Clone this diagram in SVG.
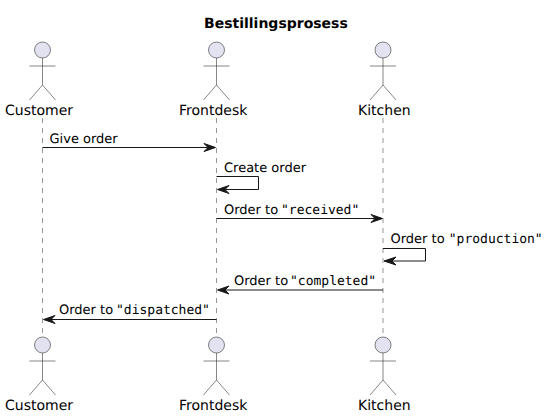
<svg xmlns="http://www.w3.org/2000/svg" width="546" height="417" viewBox="0 0 546 417">
<style>
text{font-family:"DejaVu Sans",sans-serif;fill:#000;text-rendering:geometricPrecision}
.t{font-size:14px;font-weight:bold}
.a{font-size:14px}
.m{font-size:13px}
.c{font-family:"DejaVu Sans Mono",monospace}
.life{stroke:#181818;stroke-opacity:.65;stroke-width:.7;stroke-dasharray:5 5;fill:none}
.body{stroke:#181818;stroke-opacity:.75;stroke-width:.7;fill:none}
.head{fill:#E2E2F0;stroke:#181818;stroke-opacity:.75;stroke-width:.7}
.msg{stroke:#181818;stroke-width:1;fill:none}
.ah{fill:#181818;stroke:#181818;stroke-width:1}
</style>
<rect width="546" height="417" fill="#fff"/>
<text class="t" x="204" y="28">Bestillingsprosess</text>
<defs>
<g id="actor"><circle class="head" cx="0" cy="8" r="8"/><path class="body" d="M0 16V43M-13 24H13M0 43L-13 58M0 43L13 58"/></g>
</defs>
<g id="lifelines">
<path class="life" d="M42.500 118V336"/><path class="life" d="M216.500 118V336"/><path class="life" d="M383 118V336"/>
</g>
<g id="customer-top"><use href="#actor" x="42.500" y="42"/><text class="a" x="5" y="115">Customer</text></g>
<g id="frontdesk-top"><use href="#actor" x="216.500" y="42"/><text class="a" x="179" y="115">Frontdesk</text></g>
<g id="kitchen-top"><use href="#actor" x="383" y="42"/><text class="a" x="358" y="115">Kitchen</text></g>
<g id="customer-bottom"><use href="#actor" x="42.500" y="337"/><text class="a" x="5" y="410">Customer</text></g>
<g id="frontdesk-bottom"><use href="#actor" x="216.500" y="337"/><text class="a" x="179" y="410">Frontdesk</text></g>
<g id="kitchen-bottom"><use href="#actor" x="383" y="337"/><text class="a" x="358" y="410">Kitchen</text></g>
<g id="connectors">
<path class="msg" d="M42.500 147.500H212"/><path class="ah" d="M204 143.500L215.500 147.500L204 151.500L208 147.500Z"/>
<path class="msg" d="M216.500 176.500H258.500V189.500H220"/><path class="ah" d="M229 185.500L217.500 189.500L229 193.500L225 189.500Z"/>
<path class="msg" d="M216.500 218.500H379"/><path class="ah" d="M371 214.500L382.500 218.500L371 222.500L375 218.500Z"/>
<path class="msg" d="M383 248.500H425.500V261H387"/><path class="ah" d="M396 257L384 261L396 265L392 261Z"/>
<path class="msg" d="M383 290H220"/><path class="ah" d="M229 286L217.500 290L229 294L225 290Z"/>
<path class="msg" d="M216.500 319.500H46"/><path class="ah" d="M55 315.500L43.500 319.500L55 323.500L51 319.500Z"/>
</g>
<g id="labels">
<text class="m" x="49.500" y="143">Give order</text>
<text class="m" x="224" y="172">Create order</text>
<text class="m" x="224" y="214">Order to <tspan class="c" x="281">"received"</tspan></text>
<text class="m" x="390.500" y="243">Order to <tspan class="c">"production"</tspan></text>
<text class="m" x="234" y="285">Order to <tspan class="c" x="290">"completed"</tspan></text>
<text class="m" x="59" y="314">Order to <tspan class="c" x="116">"dispatched"</tspan></text>
</g>
</svg>
